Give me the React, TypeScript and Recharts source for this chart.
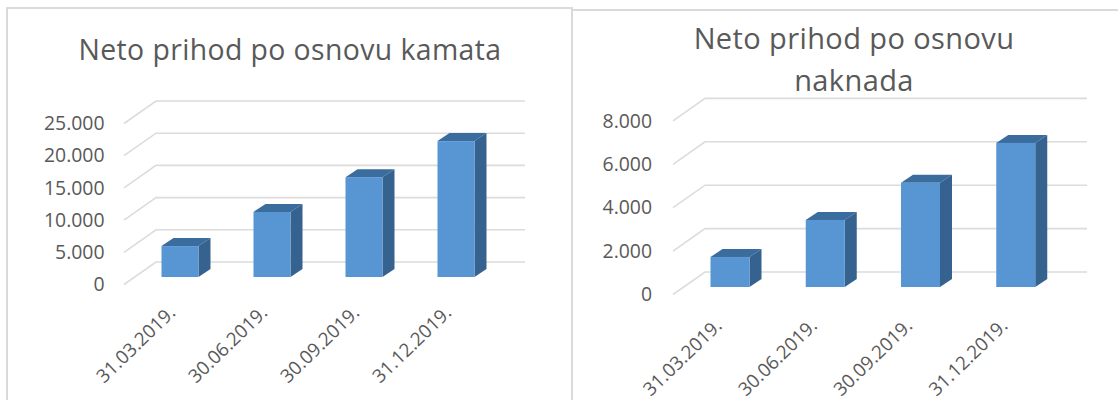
import React from 'react';
import { BarChart, Bar, XAxis, YAxis, CartesianGrid } from 'recharts';

const categories = ['31.03.2019.', '30.06.2019.', '30.09.2019.', '31.12.2019.'];
const kamataValues = [4800, 10100, 15500, 21100];
const naknadaValues = [1380, 3090, 4800, 6640];
const kamataTicks = [0, 5000, 10000, 15000, 20000, 25000];
const naknadaTicks = [0, 2000, 4000, 6000, 8000];

const FONT = '"Open Sans", sans-serif';
const TEXT = '#595959';

const fmt = (v: number) => (v === 0 ? '0' : `${Math.floor(v / 1000)}.000`);

// front face + top + side, offset from the bar the library positioned
const Bar3D = (props: any) => {
  const { x, y, width, height } = props;
  const dx = 12;
  const dy = 8;
  return (
    <g>
      <polygon points={`${x},${y} ${x + dx},${y - dy} ${x + width + dx},${y - dy} ${x + width},${y}`} fill="#3a6c9e" />
      <polygon points={`${x + width},${y} ${x + width + dx},${y - dy} ${x + width + dx},${y + height - dy} ${x + width},${y + height}`} fill="#35628e" />
      <rect x={x} y={y} width={width} height={height} fill="#5795d3" />
    </g>
  );
};

// gridline: short diagonal on the side wall, then along the back wall
const gridLine = (props: any) => {
  const { x1, x2, y1, key } = props;
  return (
    <polyline
      key={key}
      points={`${x1 - 9.5},${y1 + 7.5} ${x1 + 22.5},${y1 - 15} ${x2 + 23.5},${y1 - 15}`}
      fill="none"
      stroke="#dcdcdc"
      strokeWidth={1.6}
    />
  );
};

const YTick = (props: any) => {
  const { y, payload, right } = props;
  return (
    <text x={right} y={y + 7.5} dy="0.35em" textAnchor="end" fontFamily={FONT} fontSize={19.4} fill={TEXT}>
      {fmt(payload.value)}
    </text>
  );
};

const XTick = (props: any) => {
  const { x, y, payload, shiftX, shiftY } = props;
  const px = x + shiftX;
  const py = y + shiftY;
  return (
    <text x={px} y={py} textAnchor="end" fontFamily={FONT} fontSize={18.8} fill={TEXT} transform={`rotate(-44 ${px} ${py})`}>
      {payload.value}
    </text>
  );
};

const Chart3D = ({ values, ticks, width, margin, yRight, barSize, shiftX, shiftY }: any) => {
  const data = categories.map((c, i) => ({ name: c, value: values[i] }));
  return (
    <BarChart width={width} height={400} data={data} margin={{ top: margin.top, right: margin.right, left: 0, bottom: 0 }}>
      <CartesianGrid vertical={false} horizontal={gridLine} />
      <XAxis
        dataKey="name"
        height={margin.bottom}
        axisLine={false}
        tickLine={false}
        interval={0}
        tick={<XTick shiftX={shiftX} shiftY={shiftY} />}
      />
      <YAxis
        width={margin.left}
        domain={[ticks[0], ticks[ticks.length - 1]]}
        ticks={ticks}
        interval={0}
        axisLine={false}
        tickLine={false}
        tick={<YTick right={yRight} />}
      />
      <Bar dataKey="value" barSize={barSize} shape={<Bar3D />} isAnimationActive={false} />
    </BarChart>
  );
};

const titleStyle: React.CSSProperties = {
  position: 'absolute',
  textAlign: 'center',
  fontFamily: FONT,
  color: TEXT,
  lineHeight: '42px',
  letterSpacing: 0.4,
  whiteSpace: 'nowrap',
};

export default function App() {
  return (
    <div style={{ position: 'absolute', left: 0, top: 0, width: 1118, height: 400, background: '#fff', overflow: 'hidden' }}>
      <div style={{ position: 'absolute', left: 6, top: 7, width: 567, height: 400, border: '2px solid #dadada', boxSizing: 'border-box' }} />
      <div style={{ position: 'absolute', left: 573, top: 9, width: 545, height: 2, background: '#dadada' }} />

      <div style={{ position: 'absolute', left: 0, top: 0 }}>
        <Chart3D
          values={kamataValues}
          ticks={kamataTicks}
          width={572}
          margin={{ top: 116, right: 70.5, left: 133.5, bottom: 123 }}
          yRight={104.5}
          barSize={37}
          shiftX={-3}
          shiftY={29}
        />
      </div>
      <div style={{ ...titleStyle, left: 0, top: 28, width: 580, fontSize: 28.4 }}>Neto prihod po osnovu kamata</div>

      <div style={{ position: 'absolute', left: 572, top: 0 }}>
        <Chart3D
          values={naknadaValues}
          ticks={naknadaTicks}
          width={546}
          margin={{ top: 113.4, right: 54.5, left: 110.5, bottom: 113 }}
          yRight={80}
          barSize={39}
          shiftX={-7}
          shiftY={32}
        />
      </div>
      <div style={{ ...titleStyle, left: 572, top: 17, width: 564, fontSize: 29 }}>
        Neto prihod po osnovu
        <br />
        naknada
      </div>
    </div>
  );
}
